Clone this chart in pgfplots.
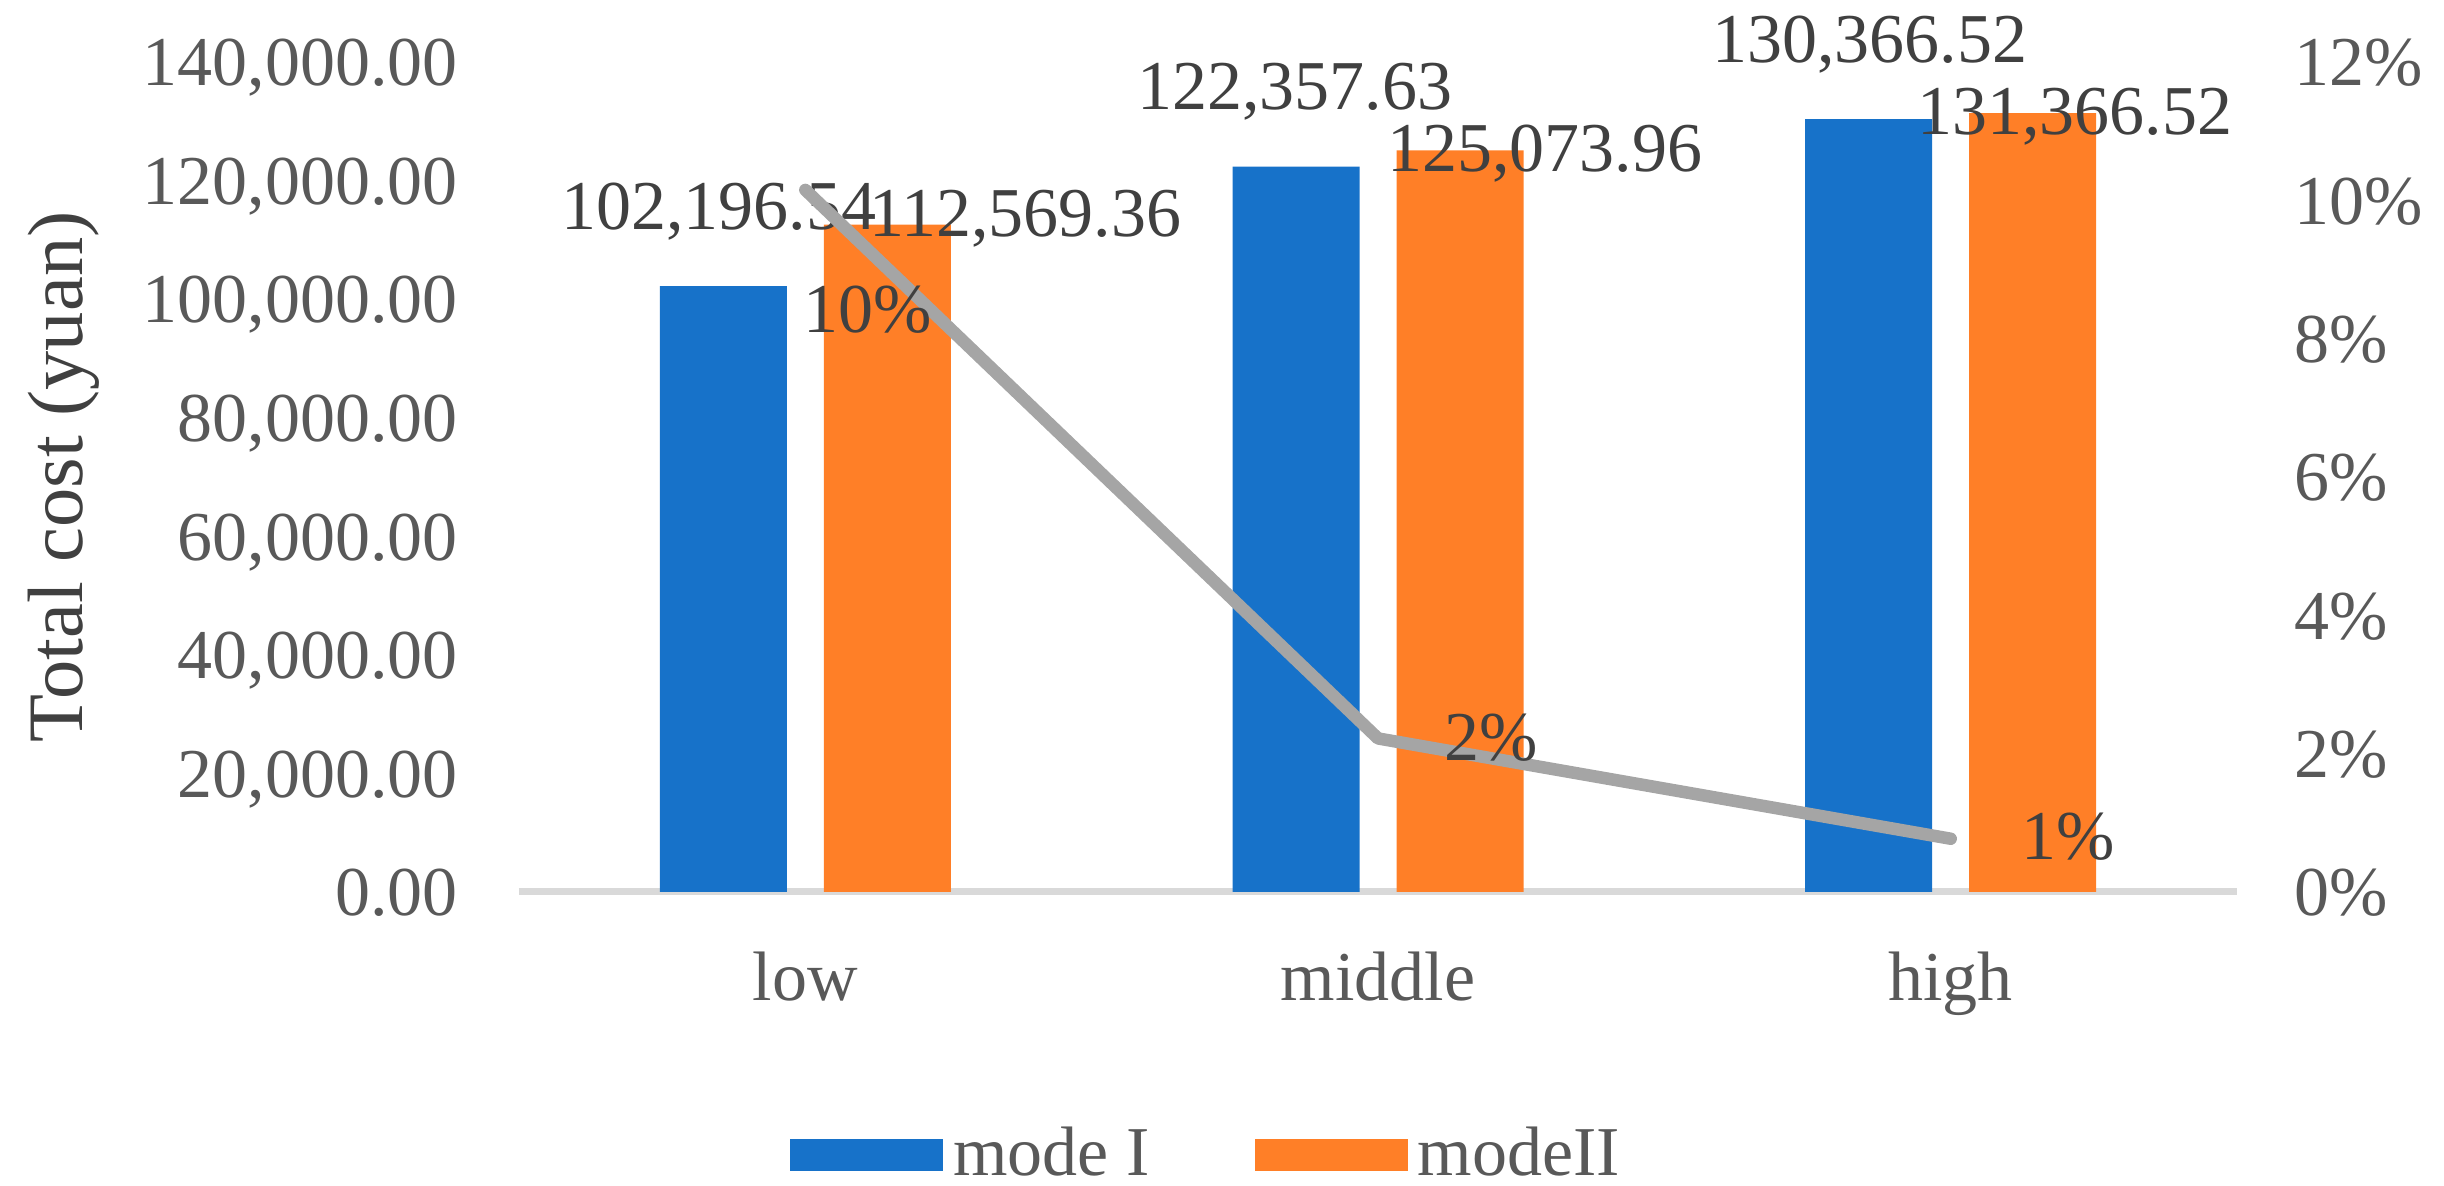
\documentclass[border=0pt]{standalone}
\usepackage{pgfplots}
\usepackage{pgfplotstable}
\pgfplotsset{compat=1.18}
\usepackage{fontspec}
\setmainfont{Liberation Serif}
\definecolor{barblue}{HTML}{1772C9}
\definecolor{barorange}{HTML}{FF7F27}
\definecolor{linegray}{HTML}{A5A5A5}
\definecolor{axisgray}{HTML}{D9D9D9}
\definecolor{ticktext}{HTML}{595959}
\definecolor{labeltext}{HTML}{404040}
\newcommand\fsz{\fontsize{14pt}{16.8pt}\selectfont}

\pgfplotstableread{
x modeI modeII
0 102196.54 112569.36
1 122357.63 125073.96
2 130366.52 131366.52
}\costtable
\pgfplotstableread{
x pct
0 10.15
1 2.22
2 0.77
}\pcttable

\begin{document}
\begin{tikzpicture}
\path[use as bounding box] (-103.8pt,-58.8pt) rectangle (385pt,178.4pt);
\begin{axis}[
  at={(0,0)}, anchor=south west,
  scale only axis, width=343.6pt, height=166pt,
  xmin=-0.5, xmax=2.5, ymin=0, ymax=140000,
  ybar=7.4pt, bar width=25.4pt,
  axis x line*=bottom, axis y line*=left,
  x axis line style={draw=axisgray, line width=1.4pt},
  y axis line style={draw=none},
  major tick length=0pt,
  xtick={0,1,2}, xticklabels={low,middle,high},
  ytick={0,20000,40000,60000,80000,100000,120000,140000},
  yticklabels={0.00,{20,000.00},{40,000.00},{60,000.00},{80,000.00},{100,000.00},{120,000.00},{140,000.00}},
  scaled y ticks=false,
  tick label style={font=\fsz, text=ticktext},
  xticklabel style={anchor=base, yshift=-21.8pt},
  yticklabel style={anchor=base east, yshift=-4.75pt, xshift=-8.74pt},
  ylabel={Total cost (yuan)},
  ylabel style={font=\fontsize{15.7pt}{18pt}\selectfont, text=labeltext, at={(axis description cs:-0.2648,0.5)}, anchor=center},
  legend style={at={(axis description cs:0.4022,-0.3169)}, anchor=center, draw=none, fill=none, font=\fsz, text=ticktext, legend columns=2, /tikz/every even column/.append style={column sep=19pt}},
  legend image code/.code={\fill[#1] (0pt,-3.2pt) rectangle (30.6pt,3.2pt);},
  clip=false,
]
\addplot[fill=barblue, draw=none] table[x=x,y=modeI]{\costtable};
\addplot[fill=barorange, draw=none] table[x=x,y=modeII]{\costtable};
\legend{mode I, modeII}
\node[anchor=base, font=\fsz, text=labeltext, inner sep=0pt] at (axis cs:-0.151,111663) {102,196.54};
\node[anchor=base, font=\fsz, text=labeltext, inner sep=0pt] at (axis cs:0.384,110482) {112,569.36};
\node[anchor=base, font=\fsz, text=labeltext, inner sep=0pt] at (axis cs:0.855,131904) {122,357.63};
\node[anchor=base, font=\fsz, text=labeltext, inner sep=0pt] at (axis cs:1.2915,121446) {125,073.96};
\node[anchor=base, font=\fsz, text=labeltext, inner sep=0pt] at (axis cs:1.859,139831) {130,366.52};
\node[anchor=base, font=\fsz, text=labeltext, inner sep=0pt] at (axis cs:2.217,127687) {131,366.52};
\end{axis}
\begin{axis}[
  at={(0,0)}, anchor=south west,
  scale only axis, width=343.6pt, height=166pt,
  xmin=-0.5, xmax=2.5, ymin=0, ymax=12,
  axis x line=none, axis y line*=right,
  y axis line style={draw=none},
  major tick length=0pt,
  ytick={0,2,4,6,8,10,12},
  yticklabels={0\%,2\%,4\%,6\%,8\%,10\%,12\%},
  tick label style={font=\fsz, text=ticktext},
  yticklabel style={anchor=base west, yshift=-4.75pt, xshift=8pt},
  clip=false,
]
\addplot[linegray, line width=2.5pt, line cap=round, line join=round] table[x=x,y=pct]{\pcttable};
\node[anchor=base, font=\fsz, text=labeltext, inner sep=0pt] at (axis cs:0.109,8.096) {10\%};
\node[anchor=base, font=\fsz, text=labeltext, inner sep=0pt] at (axis cs:1.197,1.908) {2\%};
\node[anchor=base, font=\fsz, text=labeltext, inner sep=0pt] at (axis cs:2.205,0.463) {1\%};
\end{axis}
\end{tikzpicture}
\end{document}
